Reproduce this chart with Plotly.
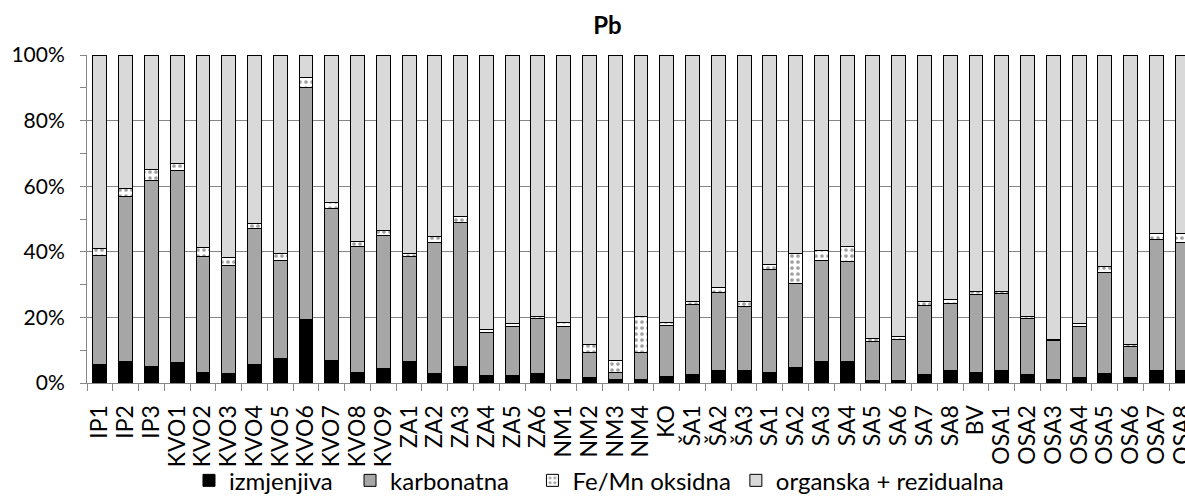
import plotly.graph_objects as go

samples = ["IP1", "IP2", "IP3", "KVO1", "KVO2", "KVO3", "KVO4", "KVO5", "KVO6", "KVO7",
           "KVO8", "KVO9", "ZA1", "ZA2", "ZA3", "ZA4", "ZA5", "ZA6", "NM1", "NM2",
           "NM3", "NM4", "KO", "ŠA1", "ŠA2", "ŠA3", "SA1", "SA2", "SA3", "SA4",
           "SA5", "SA6", "SA7", "SA8", "BV", "OSA1", "OSA2", "OSA3", "OSA4", "OSA5",
           "OSA6", "OSA7", "OSA8"]

izmjenjiva = [5.6, 6.6, 5.1, 6.2, 3.3, 3.0, 5.6, 7.6, 19.5, 6.9,
              3.3, 4.4, 6.6, 3.0, 5.1, 2.3, 2.3, 3.0, 1.2, 1.6,
              1.2, 1.2, 2.0, 2.7, 3.7, 3.7, 3.3, 4.7, 6.6, 6.6,
              0.8, 0.8, 2.7, 3.7, 3.3, 3.7, 2.7, 1.2, 1.8, 3.0,
              1.6, 3.7, 3.7]

karbonatna = [33.3, 50.3, 56.7, 58.6, 35.3, 32.7, 41.6, 29.9, 70.7, 46.4,
              38.2, 40.6, 32.0, 39.7, 43.9, 13.0, 15.0, 16.6, 16.0, 7.7,
              2.0, 8.1, 15.6, 21.3, 23.8, 19.6, 31.4, 25.7, 30.9, 30.5,
              12.0, 12.4, 21.0, 20.6, 23.7, 23.7, 17.0, 11.7, 15.4, 30.6,
              9.6, 39.9, 39.2]

fe_mn_oksidna = [2.2, 2.5, 3.4, 2.1, 2.6, 2.6, 1.5, 1.9, 3.0, 1.8,
                 1.5, 1.6, 0.8, 2.1, 1.9, 0.9, 0.7, 0.8, 1.1, 2.5,
                 3.6, 11.1, 0.7, 0.8, 1.5, 1.4, 1.4, 9.0, 2.9, 4.4,
                 0.8, 0.9, 1.3, 1.1, 0.9, 0.5, 0.5, 0.4, 0.8, 1.9,
                 0.4, 2.0, 2.7]

organska_rezidualna = [58.9, 40.6, 34.8, 33.1, 58.8, 61.7, 51.3, 60.6, 6.8, 44.9,
                       57.0, 53.4, 60.6, 55.2, 49.1, 83.8, 82.0, 79.6, 81.7, 88.2,
                       93.2, 79.6, 81.7, 75.2, 71.0, 75.3, 63.9, 60.6, 59.6, 58.5,
                       86.4, 85.9, 75.0, 74.6, 72.1, 72.1, 79.8, 86.7, 82.0, 64.5,
                       88.4, 54.4, 54.4]

series_names = ["izmjenjiva", "karbonatna", "Fe/Mn oksidna", "organska + rezidualna"]

FONT = "Lato"
AXIS_GRAY = "#868686"
outline = dict(color="#000000", width=1)
NB = "\u00a0"

fig = go.Figure()
fig.add_bar(x=samples, y=izmjenjiva, name=series_names[0] + NB * 2,
            marker=dict(color="#000000", line=outline))
fig.add_bar(x=samples, y=karbonatna, name=series_names[1] + NB * 3,
            marker=dict(color="#a6a6a6", line=outline))
fig.add_bar(x=samples, y=fe_mn_oksidna, name=series_names[2],
            marker=dict(color="#ffffff", line=outline,
                        pattern=dict(shape=".", fillmode="replace", bgcolor="#ffffff",
                                     fgcolor="#a0a0a0", size=6, solidity=0.3)))
fig.add_bar(x=samples, y=organska_rezidualna, name=series_names[3],
            marker=dict(color="#d9d9d9", line=outline))

fig.update_layout(
    width=1215, height=498,
    margin=dict(l=87, r=20, t=55, b=115, autoexpand=False),
    paper_bgcolor="#ffffff", plot_bgcolor="#ffffff",
    barmode="stack", bargap=0.46,
    font=dict(family=FONT, color="#000000"),
    title=dict(text="<b>Pb</b>", x=0.5, xref="container", xanchor="center",
               y=0.948, yref="container", yanchor="middle",
               font=dict(family=FONT, size=24, color="#000000")),
    showlegend=True,
    legend=dict(orientation="h", xref="container", x=0.493, xanchor="center",
                yref="paper", y=-0.298, yanchor="middle",
                font=dict(family=FONT, size=24, color="#000000"),
                traceorder="normal", bgcolor="rgba(0,0,0,0)"),
)

fig.update_xaxes(type="category", tickmode="linear", tick0=0, dtick=1,
                 tickangle=-90, tickson="boundaries",
                 ticks="outside", ticklen=7, tickcolor=AXIS_GRAY,
                 showline=True, linecolor=AXIS_GRAY, linewidth=1,
                 showgrid=False, tickfont=dict(family=FONT, size=23, color="#000000"),
                 ticklabelstandoff=12)

fig.update_yaxes(range=[0, 100], dtick=20, ticksuffix="%",
                 showgrid=True, gridcolor=AXIS_GRAY, gridwidth=1,
                 showline=True, linecolor=AXIS_GRAY, linewidth=1,
                 ticks="outside", ticklen=6, tickcolor=AXIS_GRAY,
                 minor=dict(dtick=10, ticks="outside", ticklen=6, tickcolor=AXIS_GRAY, showgrid=False),
                 zeroline=False,
                 tickfont=dict(family=FONT, size=21, color="#000000"),
                 ticklabelstandoff=11)

fig.write_html("out.html",
               config={"displayModeBar": False},
               post_script="document.documentElement.style.overflow='hidden';"
                           "document.body.style.overflow='hidden';"
                           "document.body.style.margin='0';")
